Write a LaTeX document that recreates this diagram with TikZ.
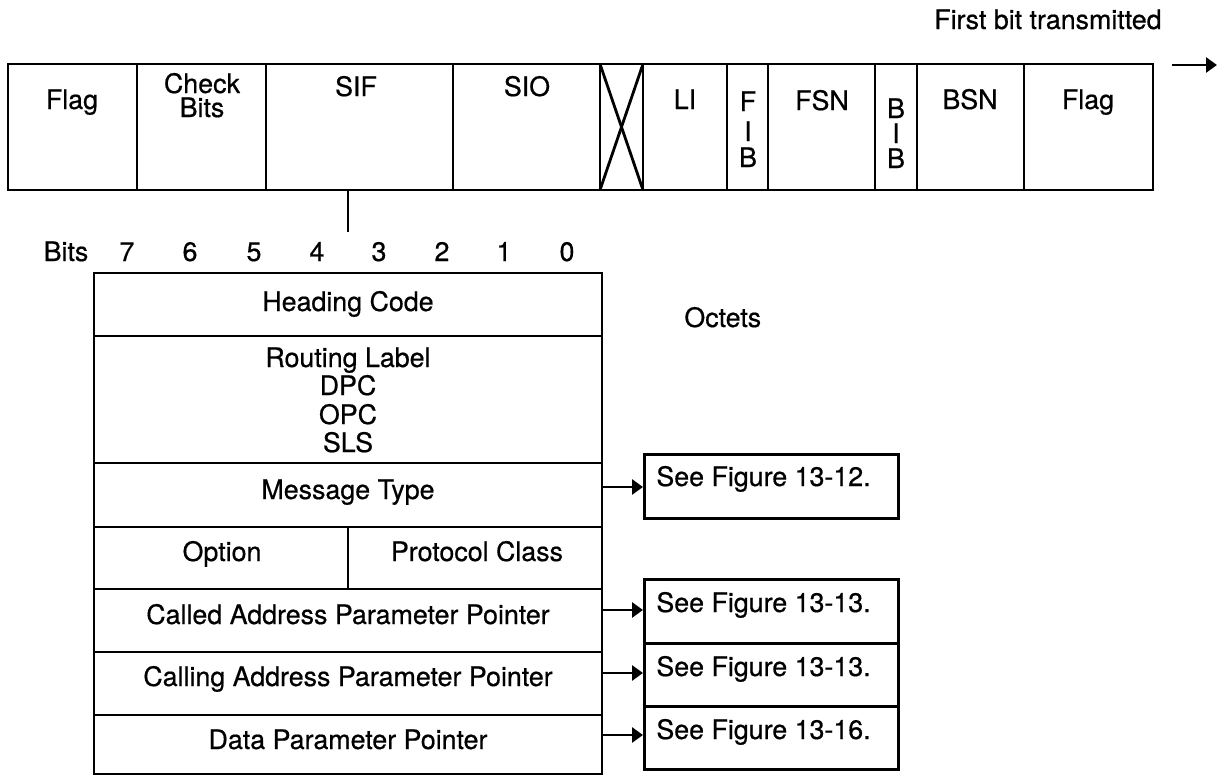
\documentclass[tikz,border=0pt]{standalone}
\usepackage{fontspec}
\setmainfont{TeX Gyre Heros}[FakeBold=0.6]
\usetikzlibrary{arrows.meta}
\begin{document}
\begin{tikzpicture}[x=0.5pt,y=-0.5pt,line width=1.4pt,
  lbl/.style={font=\fontsize{13.4}{15}\selectfont,inner sep=0pt,anchor=base},
  lblw/.style={lbl,anchor=base west},
  lble/.style={lbl,anchor=base east},
  refbox/.style={draw,minimum width=127pt,inner sep=0pt,anchor=north west},
  ptr/.style={-{Triangle[length=5.5pt,width=7.5pt]}}]
\useasboundingbox (0,0) rectangle (1217,776);
% ---------- signal unit frame ----------
\draw (8,64) rectangle (1153,190);
\foreach \xx in {137,266,453,600,643,727,768,875,917,1024}
  \draw (\xx,64) -- (\xx,190);
\draw (600,64) -- (643,190);
\draw (643,64) -- (600,190);
\node[lbl] (flag1) at (72,109) {Flag};
\node[lbl] (chk1) at (202,93) {Check};
\node[lbl] (chk2) at (202,117) {Bits};
\node[lbl] (sif) at (356,96) {SIF};
\node[lbl] (sio) at (527,96) {SIO};
\node[lbl] (li) at (685,109) {LI};
\node[lbl] (fib1) at (748,111) {F};
\node[lbl] (fib2) at (748,141) {I};
\node[lbl] (fib3) at (748,167) {B};
\node[lbl] (fsn) at (822,110) {FSN};
\node[lbl] (bib1) at (896,118) {B};
\node[lbl] (bib2) at (896,143) {I};
\node[lbl] (bib3) at (896,168) {B};
\node[lbl] (bsn) at (970,109) {BSN};
\node[lbl] (flag2) at (1088,109) {Flag};
\node[lble] (first) at (1163,29) {First bit transmitted};
\coordinate (arrs) at (1172,65);
\coordinate (arre) at (1217,65);
\draw[ptr] (arrs) -- (arre);
% ---------- SIF link ----------
\coordinate (sifb) at (348,190);
\coordinate (sife) at (348,232);
\draw (sifb) -- (sife);
% ---------- bit numbering ----------
\node[lbl] (bits) at (66,261) {Bits};
\foreach \bb/\xx in {7/127,6/190,5/254,4/317,3/379,2/442,1/504,0/567}
  \node[lbl] (bit\bb) at (\xx,261) {\bb};
% ---------- SIF table ----------
\draw (94,273) rectangle (602,774);
\foreach \yy in {336,463,527,589,652,715}
  \draw (94,\yy) -- (602,\yy);
\draw (348,527) -- (348,589);
\node[lbl] (hc) at (348,311) {Heading Code};
\node[lbl] (rl) at (348,367) {Routing Label};
\node[lbl] (dpc) at (348,395) {DPC};
\node[lbl] (opc) at (348,424) {OPC};
\node[lbl] (sls) at (348,452) {SLS};
\node[lbl] (mt) at (348,499) {Message Type};
\node[lbl] (opt) at (222,561) {Option};
\node[lbl] (pc) at (477,561) {Protocol Class};
\node[lbl] (cdp) at (348,624) {Called Address Parameter Pointer};
\node[lbl] (cgp) at (348,686) {Calling Address Parameter Pointer};
\node[lbl] (dpp) at (348,749) {Data Parameter Pointer};
\node[lblw] (oct) at (683,327) {Octets};
% ---------- reference boxes ----------
\node[refbox,minimum height=32pt] (r1) at (643,453) {};
\node[refbox,minimum height=32pt] (r2) at (643,578) {};
\node[refbox,minimum height=31.5pt] (r3) at (643,642) {};
\node[refbox,minimum height=31.5pt] (r4) at (643,705) {};
\node[lblw] (t1) at (655,486) {See Figure 13-12.};
\node[lblw] (t2) at (655,612) {See Figure 13-13.};
\node[lblw] (t3) at (655,676) {See Figure 13-13.};
\node[lblw] (t4) at (655,739) {See Figure 13-16.};
\coordinate (p1) at (602,487);
\coordinate (p2) at (602,610);
\coordinate (p3) at (602,673);
\coordinate (p4) at (602,735);
\draw[ptr] (p1) -- (p1 -| r1.west);
\draw[ptr] (p2) -- (p2 -| r2.west);
\draw[ptr] (p3) -- (p3 -| r3.west);
\draw[ptr] (p4) -- (p4 -| r4.west);
\end{tikzpicture}
\end{document}
